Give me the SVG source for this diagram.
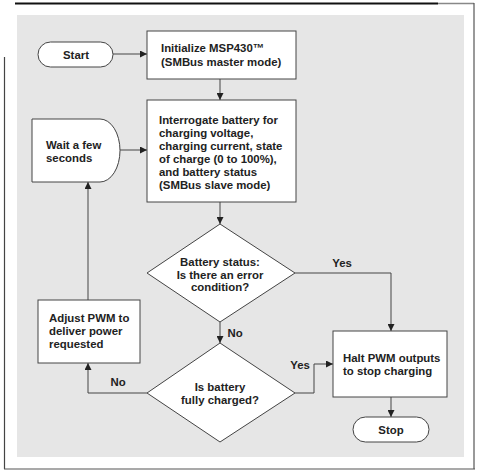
<svg xmlns="http://www.w3.org/2000/svg" width="480" height="474" viewBox="0 0 480 474">
<defs>
<marker id="ah" viewBox="0 0 8 8" refX="8" refY="4" markerWidth="7" markerHeight="7" markerUnits="userSpaceOnUse" orient="auto">
<path d="M0,0 L8,4 L0,8 Z" fill="#222"/>
</marker>
</defs>
<style>
.shape{fill:#fff;stroke:#444;stroke-width:1}
.t{font-family:"Liberation Sans",Arial,sans-serif;font-weight:bold;font-size:11.4px;fill:#222}
.c{text-anchor:middle}
.con{fill:none;stroke:#444;stroke-width:1;marker-end:url(#ah)}
</style>
<rect width="480" height="474" fill="#fff"/>
<g id="frame">
<line x1="15" y1="3.5" x2="438" y2="3.5" stroke="#111" stroke-width="2"/>
<line x1="438" y1="3.5" x2="474" y2="3.5" stroke="#888" stroke-width="1.5"/>
<line x1="474" y1="3" x2="474" y2="469" stroke="#555" stroke-width="1.2"/>
<line x1="4.5" y1="57" x2="4.5" y2="469" stroke="#444" stroke-width="1.2"/>
<line x1="4" y1="469" x2="475" y2="469" stroke="#555" stroke-width="1.2"/>
<rect x="17" y="15" width="447" height="442" fill="#e6e6e6"/>
</g>
<g id="connectors">
<line class="con" x1="113" y1="54" x2="147" y2="54"/>
<line class="con" x1="220" y1="79" x2="220" y2="100"/>
<line class="con" x1="120" y1="150" x2="147" y2="150"/>
<line class="con" x1="220" y1="202" x2="220" y2="224"/>
<polyline class="con" points="295,273 391,273 391,331"/>
<line class="con" x1="220" y1="322" x2="220" y2="343"/>
<polyline class="con" points="147,393 88,393 88,363"/>
<line class="con" x1="88" y1="300" x2="88" y2="182"/>
<polyline class="con" points="295,393 314,393 314,364 333,364"/>
<line class="con" x1="391" y1="397" x2="391" y2="417"/>
<text class="t" x="342" y="267" text-anchor="middle">Yes</text>
<text class="t" x="235" y="337" text-anchor="middle">No</text>
<text class="t" x="118" y="386" text-anchor="middle">No</text>
<text class="t" x="300" y="369" text-anchor="middle">Yes</text>
</g>
<g id="start">
<rect class="shape" x="38" y="42" width="75" height="25" rx="12.5"/>
<text class="t c" x="76" y="59">Start</text>
</g>
<g id="init">
<rect class="shape" x="147" y="31" width="149" height="48"/>
<text class="t" x="161" y="52">Initialize MSP430™</text>
<text class="t" x="161" y="66">(SMBus master mode)</text>
</g>
<g id="interrogate">
<rect class="shape" x="147" y="100" width="149" height="102"/>
<text class="t" x="159" y="124">Interrogate battery for</text>
<text class="t" x="159" y="137">charging voltage,</text>
<text class="t" x="159" y="150">charging current, state</text>
<text class="t" x="159" y="163">of charge (0 to 100%),</text>
<text class="t" x="159" y="176">and battery status</text>
<text class="t" x="159" y="189">(SMBus slave mode)</text>
</g>
<g id="wait">
<path class="shape" d="M32,119 H100 A20,31.5 0 0 1 100,182 H32 Z"/>
<text class="t" x="46" y="149">Wait a few</text>
<text class="t" x="46" y="161.5">seconds</text>
</g>
<g id="error-check">
<path class="shape" d="M220,224 L295,273 L220,322 L147,273 Z"/>
<text class="t c" x="220" y="266">Battery status:</text>
<text class="t c" x="220" y="278.5">Is there an error</text>
<text class="t c" x="220" y="291">condition?</text>
</g>
<g id="charged-check">
<path class="shape" d="M220,343 L295,393 L220,442 L147,393 Z"/>
<text class="t c" x="220" y="391">Is battery</text>
<text class="t c" x="220" y="404">fully charged?</text>
</g>
<g id="adjust">
<rect class="shape" x="38" y="300" width="102" height="63"/>
<text class="t" x="49" y="322">Adjust PWM to</text>
<text class="t" x="49" y="335">deliver power</text>
<text class="t" x="49" y="348">requested</text>
</g>
<g id="halt">
<rect class="shape" x="333" y="331" width="114" height="66"/>
<text class="t" x="343" y="362">Halt PWM outputs</text>
<text class="t" x="343" y="375">to stop charging</text>
</g>
<g id="stop">
<rect class="shape" x="353" y="417" width="76" height="25" rx="12.5"/>
<text class="t c" x="391" y="434">Stop</text>
</g>
</svg>
